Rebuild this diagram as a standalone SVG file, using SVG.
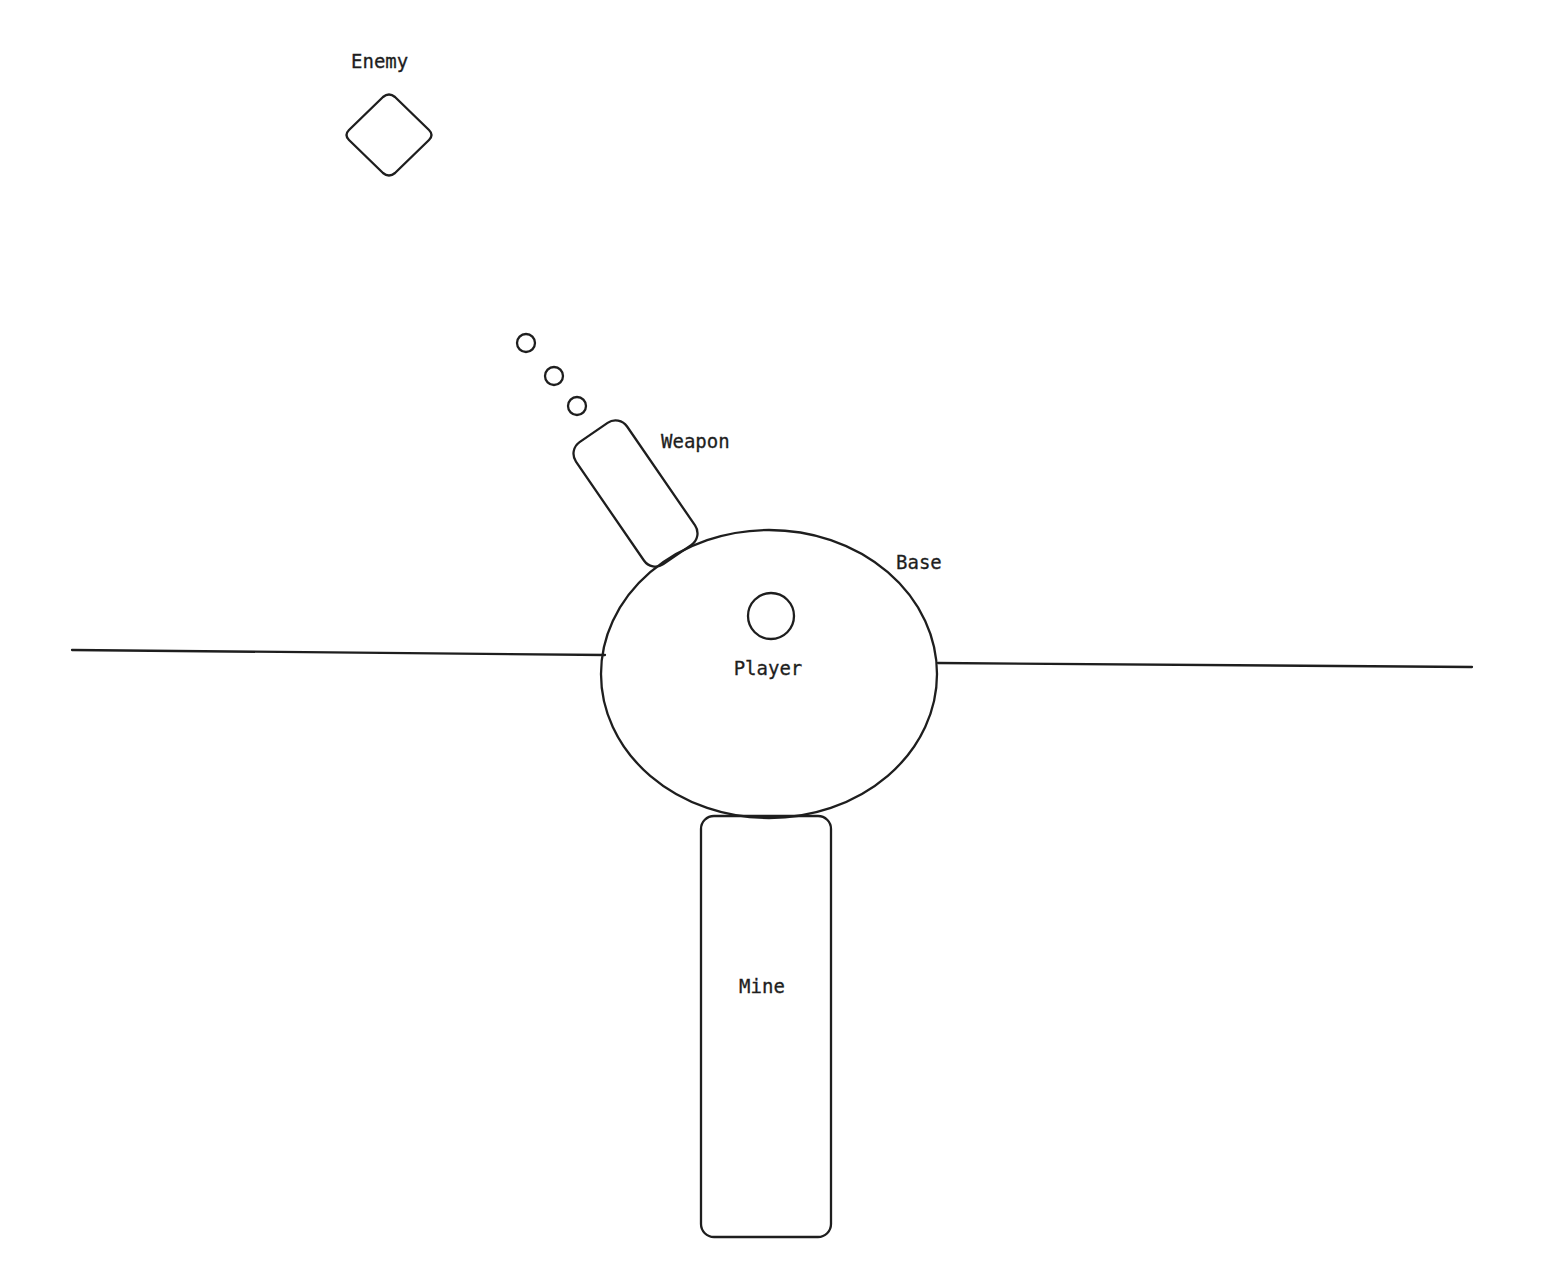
<svg xmlns="http://www.w3.org/2000/svg" width="1558" height="1284" viewBox="0 0 1558 1284">
<style>
.s{fill:none;stroke:#1e1e1e;stroke-width:2.3;stroke-linecap:round;stroke-linejoin:round}
.t{font-family:"DejaVu Sans Mono","Liberation Mono",monospace;font-size:19px;fill:#1e1e1e;stroke:#1e1e1e;stroke-width:0.3}
</style>
<rect width="1558" height="1284" fill="#ffffff"/>
<g id="connectors">
<path class="s" d="M72 650 L605 655"/>
<path class="s" d="M938 663 L1472 667"/>
</g>
<g id="enemy">
<path class="s" d="M383 97 Q389 92 395 97 L429 130 Q434 135 429 140 L395 173 Q389 178 383 173 L349 140 Q344 135 349 130 Z"/>
<text class="t" x="351" y="68">Enemy</text>
</g>
<g id="bullets">
<circle class="s" cx="526" cy="343" r="9"/>
<circle class="s" cx="554" cy="376" r="9"/>
<circle class="s" cx="577" cy="406" r="9"/>
</g>
<g id="weapon">
<rect class="s" x="604.5" y="419.5" width="62" height="148" rx="14" transform="rotate(-34.5 635.5 493.5)"/>
<text class="t" x="661" y="448">Weapon</text>
</g>
<g id="base">
<ellipse class="s" cx="769" cy="674" rx="168" ry="144"/>
<text class="t" x="896" y="569">Base</text>
</g>
<g id="player">
<circle class="s" cx="771" cy="616" r="23"/>
<text class="t" x="768" y="675" text-anchor="middle">Player</text>
</g>
<g id="mine">
<rect class="s" x="701" y="816" width="130" height="421" rx="13"/>
<text class="t" x="762" y="993" text-anchor="middle">Mine</text>
</g>
</svg>
